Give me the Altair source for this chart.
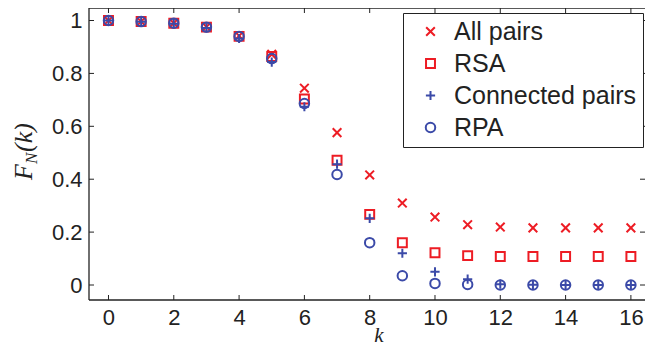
import altair as alt
import pandas as pd

k = list(range(17))
names = ["All pairs", "RSA", "Connected pairs", "RPA"]
all_pairs = [1.0, 0.996, 0.99, 0.976, 0.942, 0.872, 0.744, 0.576, 0.416, 0.31, 0.257, 0.228, 0.219, 0.216, 0.216, 0.216, 0.216]
rsa = [1.0, 0.996, 0.99, 0.975, 0.94, 0.864, 0.703, 0.472, 0.267, 0.16, 0.122, 0.111, 0.108, 0.108, 0.108, 0.108, 0.108]
connected = [1.0, 0.995, 0.988, 0.972, 0.932, 0.843, 0.674, 0.457, 0.252, 0.12, 0.05, 0.022, 0.003, 0.001, 0.0, 0.0, 0.0]
rpa = [1.0, 0.996, 0.99, 0.975, 0.94, 0.856, 0.686, 0.418, 0.16, 0.035, 0.006, 0.002, 0.0, 0.0, 0.0, 0.0, 0.0]
x_ticks = [0, 2, 4, 6, 8, 10, 12, 14, 16]
y_ticks = [0, 0.2, 0.4, 0.6, 0.8, 1]

colors = ["#ed1c24", "#ed1c24", "#3b4aa8", "#3b4aa8"]
shapes = ["M-1,-1L1,1M1,-1L-1,1", "square", "M-1,0L1,0M0,-1L0,1", "circle"]
sizes = [75, 90, 150, 130]

rows = []
for name, vals in zip(names, [all_pairs, rsa, connected, rpa]):
    for kk, v in zip(k, vals):
        rows.append({"k": kk, "F": v, "series": name})
df = pd.DataFrame(rows)

W, H = 556, 292
xdom = [-0.597, 16.432]
ydom = [-0.0567, 1.0473]
xs = alt.Scale(domain=xdom, nice=False, zero=False)
ys = alt.Scale(domain=ydom, nice=False, zero=False)
AX = "#222222"

xaxis = alt.Axis(values=x_ticks, title=None, domain=False, ticks=False, tickSize=0, grid=False,
                 labelFont="Liberation Sans", labelFontSize=22, labelColor=AX, labelPadding=7,
                 labelFlush=False, labelOverlap=False)
yaxis = alt.Axis(values=y_ticks, title=None, domain=False, ticks=False, tickSize=0, grid=False,
                 format="~g", labelFont="Liberation Sans", labelFontSize=22, labelColor=AX,
                 labelPadding=7, labelFlush=False, labelOverlap=False)

leg = alt.Legend(title=None, orient="none", legendX=314, legendY=5,
                 strokeColor="#222222", fillColor="white", padding=6,
                 labelFont="Liberation Sans", labelFontSize=25, labelColor="#222222", labelLimit=400,
                 symbolStrokeWidth=2, symbolOffset=9, labelOffset=11, rowPadding=6)

points = alt.Chart(df).mark_point(filled=False, strokeWidth=2, opacity=1).encode(
    x=alt.X("k:Q", scale=xs, axis=xaxis),
    y=alt.Y("F:Q", scale=ys, axis=yaxis),
    color=alt.Color("series:N", scale=alt.Scale(domain=names, range=colors), legend=leg),
    shape=alt.Shape("series:N", scale=alt.Scale(domain=names, range=shapes), legend=leg),
    size=alt.Size("series:N", scale=alt.Scale(domain=names, range=sizes), legend=leg),
)

xt = pd.DataFrame({"v": x_ticks})
yt = pd.DataFrame({"v": y_ticks})
one = pd.DataFrame({"a": [0]})

def rule_x(y1, y2):
    return alt.Chart(xt).mark_rule(color=AX, strokeWidth=1).encode(
        x=alt.X("v:Q", scale=xs, axis=xaxis), y=alt.value(y1), y2=alt.value(y2))

def rule_y(x1, x2):
    return alt.Chart(yt).mark_rule(color=AX, strokeWidth=1).encode(
        y=alt.Y("v:Q", scale=ys, axis=yaxis), x=alt.value(x1), x2=alt.value(x2))

bottom_t = rule_x(H, H - 5)
top_t = rule_x(0, 5)
left_t = rule_y(0, 5)
right_t = rule_y(W, W - 5)

def frame(x1, x2, y1, y2):
    return alt.Chart(one).mark_rule(color=AX, strokeWidth=1.3).encode(
        x=alt.value(x1), x2=alt.value(x2), y=alt.value(y1), y2=alt.value(y2))

f_left = frame(0, 0, 0, H)
f_bottom = frame(0, W, H, H)
f_top = frame(0, W, 0, 0)

def txt(s, x, y, size, angle=0, align="left"):
    return alt.Chart(one).mark_text(text=s, font="Liberation Serif", fontStyle="italic", fontSize=size,
                                    angle=angle, align=align, baseline="alphabetic", color=AX).encode(
        x=alt.value(x), y=alt.value(y))

yF = txt("F", -57, 172, 26, angle=270)
yN = txt("N", -52, 156, 17, angle=270)
yK = txt("(k)", -57, 144, 26, angle=270)
xK = txt("k", 290, 334, 21, align="center")

chart = alt.layer(bottom_t, top_t, left_t, right_t, f_left, f_bottom, f_top,
                  points, yF, yN, yK, xK).properties(
    width=W, height=H,
    background="white",
    autosize=alt.AutoSizeParams(type="none"),
    padding={"left": 81, "top": 0, "right": 0, "bottom": 47},
).configure_view(stroke=None)

chart.save("out.html", embed_options={"renderer": "svg", "actions": False})
